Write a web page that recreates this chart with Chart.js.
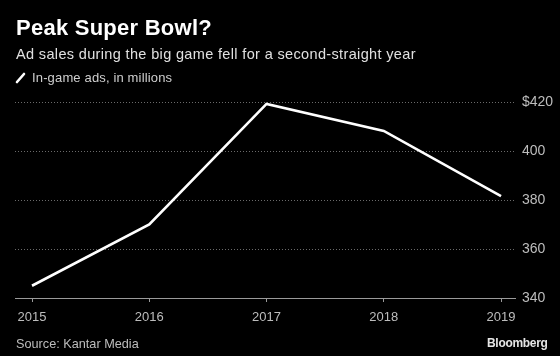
<!DOCTYPE html>
<html>
<head>
<meta charset="utf-8">
<script src="https://cdn.jsdelivr.net/npm/chart.js@4"></script>
<style>
  html, body { margin: 0; padding: 0; background: #000; }
  #wrap { position: relative; width: 560px; height: 356px; background: #000; overflow: hidden; font-family: "Liberation Sans", Arial, sans-serif; }
  #chart { position: absolute; left: 0; top: 0; }
  .t { position: absolute; white-space: nowrap; line-height: 1; }
  #title { left: 16px; top: 17px; font-size: 22px; font-weight: bold; color: #fff; letter-spacing: 0.25px; }
  #subtitle { left: 16px; top: 47px; font-size: 14.5px; color: #e0e0e0; letter-spacing: 0.35px; }
  #legend { left: 32px; top: 71px; font-size: 13px; color: #cfcfcf; letter-spacing: 0.15px; }
  #source { left: 16px; top: 338px; font-size: 12.7px; color: #bdbdbd; }
  #brand { left: 487px; top: 337px; font-size: 12px; font-weight: bold; color: #e6e6e6; letter-spacing: -0.3px; }
  #icon { position: absolute; left: 15px; top: 72px; }
</style>
</head>
<body>
<div id="wrap">
  <canvas id="chart" width="560" height="356"></canvas>
  <div class="t" id="title">Peak Super Bowl?</div>
  <div class="t" id="subtitle">Ad sales during the big game fell for a second-straight year</div>
  <svg id="icon" width="12" height="12"><line x1="2" y1="10" x2="9" y2="2" stroke="#fff" stroke-width="2.6" stroke-linecap="round"/></svg>
  <div class="t" id="legend">In-game ads, in millions</div>
  <div class="t" id="source">Source: Kantar Media</div>
  <div class="t" id="brand">Bloomberg</div>
</div>
<script>
const years = [2015, 2016, 2017, 2018, 2019];
const adSales = [345, 370, 419.2, 408.2, 381.6];
const yTicks = [340, 360, 380, 400, 420];
const yTickLabels = ["340", "360", "380", "400", "$420"];
const seriesName = "In-game ads, in millions";

const FONT = "'Liberation Sans', Arial, sans-serif";

new Chart(document.getElementById('chart'), {
  type: 'line',
  data: {
    datasets: [{
      label: seriesName,
      data: years.map((y, i) => ({ x: y, y: adSales[i] })),
      borderColor: '#ffffff',
      borderWidth: 2.6,
      pointRadius: 0,
      tension: 0,
      fill: false
    }]
  },
  options: {
    responsive: false,
    animation: false,
    events: [],
    layout: { padding: { left: 15, top: 102, right: 0, bottom: 0 } },
    plugins: { legend: { display: false }, tooltip: { enabled: false }, title: { display: false } },
    scales: {
      x: {
        type: 'linear',
        min: 2014.855,
        max: 2019.119,
        afterBuildTicks: s => { s.ticks = years.map(v => ({ value: v })); },
        afterFit: s => { s.height = 58; },
        ticks: {
          callback: v => String(v),
          color: '#bdbdbd',
          font: { family: FONT, size: 13 },
          padding: 8,
          maxRotation: 0,
          autoSkip: false
        },
        grid: { drawOnChartArea: false, drawTicks: true, tickLength: 4, color: '#9a9a9a', lineWidth: 1 },
        border: { display: true, color: '#9a9a9a', width: 1 }
      },
      y: {
        position: 'right',
        min: 340,
        max: 420,
        afterBuildTicks: s => { s.ticks = yTicks.map(v => ({ value: v })); },
        afterFit: s => { s.width = 45; },
        ticks: {
          callback: (v) => yTickLabels[yTicks.indexOf(v)],
          color: '#bdbdbd',
          font: { family: FONT, size: 14 },
          padding: 7,
          autoSkip: false
        },
        grid: {
          drawTicks: false,
          color: ctx => (ctx.tick && ctx.tick.value === 340) ? 'rgba(0,0,0,0)' : '#6a6a6a',
          lineWidth: 1
        },
        border: { display: false, dash: [1, 2] }
      }
    }
  }
});
</script>
</body>
</html>
